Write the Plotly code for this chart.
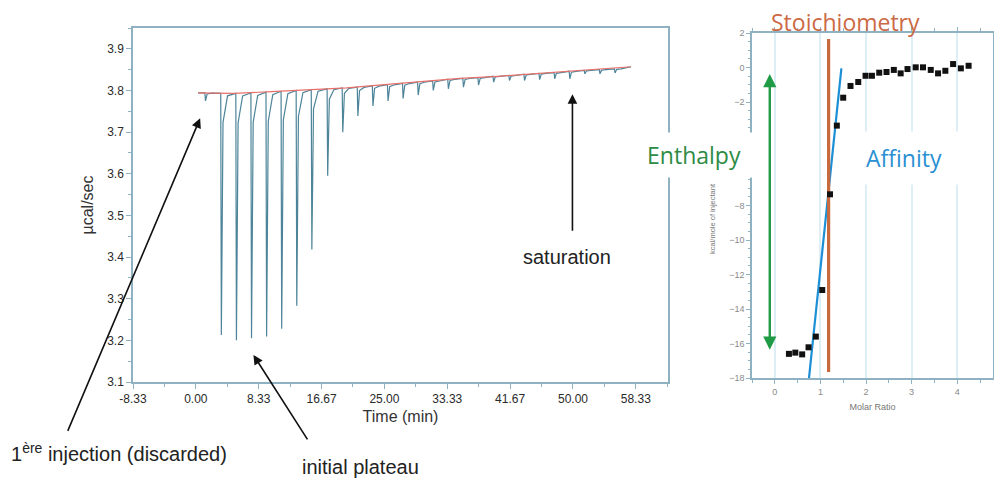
import plotly.graph_objects as go

# ---------------- data: thermogram (left) ----------------
inj_time = [1.2, 3.3, 5.3, 7.3, 9.3, 11.3, 13.3, 15.3, 17.4, 19.4, 21.4, 23.4, 25.4, 27.4,
            29.4, 31.4, 33.4, 35.4, 37.4, 39.4, 41.5, 43.5, 45.5, 47.5, 49.5, 51.5, 53.5, 55.5]
peak_min = [3.775, 3.213, 3.200, 3.205, 3.209, 3.228, 3.283, 3.418, 3.595, 3.700, 3.739, 3.763,
            3.775, 3.781, 3.789, 3.800, 3.804, 3.808, 3.813, 3.820, 3.824, 3.824, 3.826, 3.828,
            3.828, 3.840, 3.840, 3.842]
peak_base = [3.794, 3.793, 3.793, 3.794, 3.796, 3.798, 3.800, 3.802, 3.804, 3.806, 3.808, 3.811,
             3.814, 3.817, 3.820, 3.823, 3.827, 3.829, 3.831, 3.834, 3.836, 3.839, 3.841, 3.843,
             3.846, 3.848, 3.850, 3.852]
base_time = [0.3, 5, 10, 15, 20, 25, 30, 35, 40, 45, 50, 55, 57.7]
base_val = [3.794, 3.793, 3.797, 3.802, 3.806, 3.814, 3.821, 3.829, 3.834, 3.840, 3.846, 3.852, 3.857]
time_ticks = [-8.33, 0.00, 8.33, 16.67, 25.00, 33.33, 41.67, 50.00, 58.33]
time_tick_text = ["-8.33", "0.00", "8.33", "16.67", "25.00", "33.33", "41.67", "50.00", "58.33"]
power_ticks = [3.1, 3.2, 3.3, 3.4, 3.5, 3.6, 3.7, 3.8, 3.9]

# ---------------- data: binding isotherm (right) ----------------
molar_ratio = [0.31, 0.45, 0.60, 0.74, 0.90, 1.04, 1.21, 1.36, 1.50, 1.66, 1.83, 1.99, 2.13,
               2.29, 2.45, 2.61, 2.76, 2.91, 3.09, 3.25, 3.42, 3.58, 3.74, 3.91, 4.08, 4.25]
heat = [-16.60, -16.53, -16.63, -16.22, -15.60, -12.90, -7.35, -3.37, -1.75, -1.07, -0.84, -0.48,
        -0.48, -0.30, -0.26, -0.14, -0.34, -0.09, 0.01, 0.01, -0.14, -0.34, -0.19, 0.20, -0.05, 0.10]
affinity_x = [0.75, 1.46]
affinity_y = [-18.0, -0.05]
stoich_x = [1.18, 1.18]
stoich_y = [-17.65, 1.65]
enthalpy_x = -0.11
enthalpy_top = -0.38
enthalpy_bottom = -16.45
ratio_ticks = [0, 1, 2, 3, 4]
# -4 and -6 are hidden behind the "Enthalpy" label in the reference
heat_ticks = [2, 0, -2, -8, -10, -12, -14, -16, -18]

# ---------------- build thermogram polyline from data ----------------
trace_x, trace_y = [base_time[0]], [base_val[0]]
for t, lo, b in zip(inj_time, peak_min, peak_base):
    d = b - lo
    trace_x += [t, t + 0.08, t + 0.3, t + 0.9]
    trace_y += [b, lo, b - 0.12 * d, b - 0.01 * d]
trace_x.append(base_time[-1])
trace_y.append(base_val[-1])

W, H = 994, 481
def px(x):
    return x / W
def py(y):
    return 1 - y / H

AX = "#8fb2c3"
fig = go.Figure()

fig.add_trace(go.Scatter(x=trace_x, y=trace_y, mode="lines",
                         line=dict(color="#4d8499", width=1.2), xaxis="x", yaxis="y",
                         showlegend=False, hoverinfo="skip"))
fig.add_trace(go.Scatter(x=base_time, y=base_val, mode="lines",
                         line=dict(color="#e8706a", width=1.2), xaxis="x", yaxis="y",
                         showlegend=False, hoverinfo="skip"))

fig.add_trace(go.Scatter(x=affinity_x, y=affinity_y, mode="lines",
                         line=dict(color="#1c8fd6", width=2.2), xaxis="x2", yaxis="y2",
                         showlegend=False))
fig.add_trace(go.Scatter(x=stoich_x, y=stoich_y, mode="lines",
                         line=dict(color="#c96a3e", width=3.2), xaxis="x2", yaxis="y2",
                         showlegend=False))
fig.add_trace(go.Scatter(x=molar_ratio, y=heat, mode="markers",
                         marker=dict(symbol="square", size=6, color="#111111"),
                         xaxis="x2", yaxis="y2", showlegend=False))

tickfont_l = dict(family="Liberation Sans, Arial", size=12, color="#2a2a2a")
tickfont_r = dict(family="Liberation Sans, Arial", size=9, color="#8a8a8a")

fig.update_layout(
    width=W, height=H, margin=dict(l=0, r=0, t=0, b=0, autoexpand=False),
    paper_bgcolor="white", plot_bgcolor="white",
    xaxis=dict(domain=[px(133), px(668)], range=[-8.333, 62.6], automargin=False,
               tickvals=time_ticks, ticktext=time_tick_text, tickfont=tickfont_l,
               ticks="outside", ticklen=5, tickcolor=AX, linecolor=AX, linewidth=1.5,
               mirror=True, showgrid=False, zeroline=False,
               minor=dict(dtick=4.1667, tick0=-8.333, ticks="outside", ticklen=3, tickcolor=AX),
               title=dict(text="Time (min)", font=dict(family="Liberation Sans, Arial", size=16, color="#333"),
                          standoff=6)),
    yaxis=dict(domain=[py(382), py(28)], range=[3.1, 3.95], automargin=False,
               tickvals=power_ticks, tickformat=".1f", tickfont=tickfont_l,
               ticks="outside", ticklen=5, tickcolor=AX, linecolor=AX, linewidth=1.5,
               mirror=True, showgrid=False, zeroline=False,
               minor=dict(dtick=0.05, ticks="outside", ticklen=3, tickcolor=AX),
               title=dict(text="µcal/sec", font=dict(family="Liberation Sans, Arial", size=16, color="#333"),
                          standoff=10)),
    xaxis2=dict(domain=[px(752), px(993)], range=[-0.5, 4.785], anchor="y2", automargin=False,
                tickvals=ratio_ticks, tickfont=tickfont_r,
                ticks="outside", ticklen=4, tickcolor=AX, linecolor=AX, linewidth=1.5,
                mirror="ticks", showgrid=True, gridcolor="#deeef6", gridwidth=2, zeroline=False,
                minor=dict(dtick=0.5, tick0=0, ticks="outside", ticklen=3, tickcolor=AX),
                title=dict(text="Molar Ratio", font=dict(family="Liberation Sans, Arial", size=9, color="#777"),
                           standoff=8)),
    yaxis2=dict(domain=[py(378), py(33)], range=[-18, 2], anchor="x2", automargin=False,
                tickvals=heat_ticks, tickfont=tickfont_r,
                ticks="outside", ticklen=4, tickcolor=AX, linecolor=AX, linewidth=1.5,
                mirror="ticks", showgrid=False, zeroline=False,
                minor=dict(dtick=0.5, ticks="outside", ticklen=2, tickcolor=AX)),
)

ann = []
# y title of the isotherm, sitting just below the Enthalpy label box
ann.append(dict(x=px(712), y=py(219), xref="paper", yref="paper", text="kcal/mole of injectant",
                textangle=-90, xanchor="center", yanchor="middle", showarrow=False,
                font=dict(family="Liberation Sans, Arial", size=7.5, color="#777")))
# black arrows on thermogram
ann.append(dict(x=49.93, y=3.791, xref="x", yref="y", ax=0, ay=138, showarrow=True,
                arrowhead=2, arrowsize=1.2, arrowwidth=1.6, arrowcolor="#111", text=""))
ann.append(dict(x=0.57, y=3.733, xref="x", yref="y", ax=-133, ay=314, showarrow=True,
                arrowhead=2, arrowsize=1.2, arrowwidth=1.6, arrowcolor="#111", text=""))
ann.append(dict(x=7.63, y=3.165, xref="x", yref="y", ax=55, ay=86, showarrow=True,
                arrowhead=2, arrowsize=1.2, arrowwidth=1.6, arrowcolor="#111", text=""))
txtfont = dict(family="Liberation Sans, Arial", size=20, color="#222")
ann.append(dict(x=px(567), y=py(257), xref="paper", yref="paper", text="saturation",
                xanchor="center", yanchor="middle", showarrow=False, font=txtfont))
ann.append(dict(x=px(9), y=py(452), xref="paper", yref="paper", xanchor="left", yanchor="middle",
                text="1<sup>ère</sup> injection (discarded)", showarrow=False, font=txtfont))
ann.append(dict(x=px(300), y=py(467), xref="paper", yref="paper", xanchor="left", yanchor="middle",
                text="initial plateau", showarrow=False, font=txtfont))

# enthalpy double arrow
ann.append(dict(x=enthalpy_x, y=enthalpy_top, xref="x2", yref="y2", axref="x2", ayref="y2",
                ax=enthalpy_x, ay=enthalpy_bottom, showarrow=True, arrowside="end+start",
                arrowhead=2, arrowsize=1.1, arrowwidth=2.4, arrowcolor="#1f9a45", text=""))
bigfont = "Open Sans, sans-serif"
ann.append(dict(x=px(845), y=py(22), xref="paper", yref="paper", text="Stoichiometry",
                xanchor="center", yanchor="middle",
                showarrow=False, font=dict(family=bigfont, size=23, color="#cc6a45")))
ann.append(dict(x=px(694), y=py(155), xref="paper", yref="paper", text="Enthalpy",
                xanchor="center", yanchor="middle",
                showarrow=False, font=dict(family=bigfont, size=23, color="#2e8b45"),
                bgcolor="white", width=124, height=42))
ann.append(dict(x=px(904), y=py(158), xref="paper", yref="paper", text="Affinity",
                xanchor="center", yanchor="middle",
                showarrow=False, font=dict(family=bigfont, size=23, color="#2a90d2"),
                bgcolor="white", width=118, height=50))
fig.update_layout(annotations=ann)

fig.write_html("out.html", config={"displayModeBar": False})

# remove the browser's default page margin so the figure sits at the window origin
with open("out.html", "r", encoding="utf-8") as f:
    html = f.read()
html = html.replace("<head>", "<head><style>html,body{margin:0;padding:0;overflow:hidden;}</style>", 1)
with open("out.html", "w", encoding="utf-8") as f:
    f.write(html)
